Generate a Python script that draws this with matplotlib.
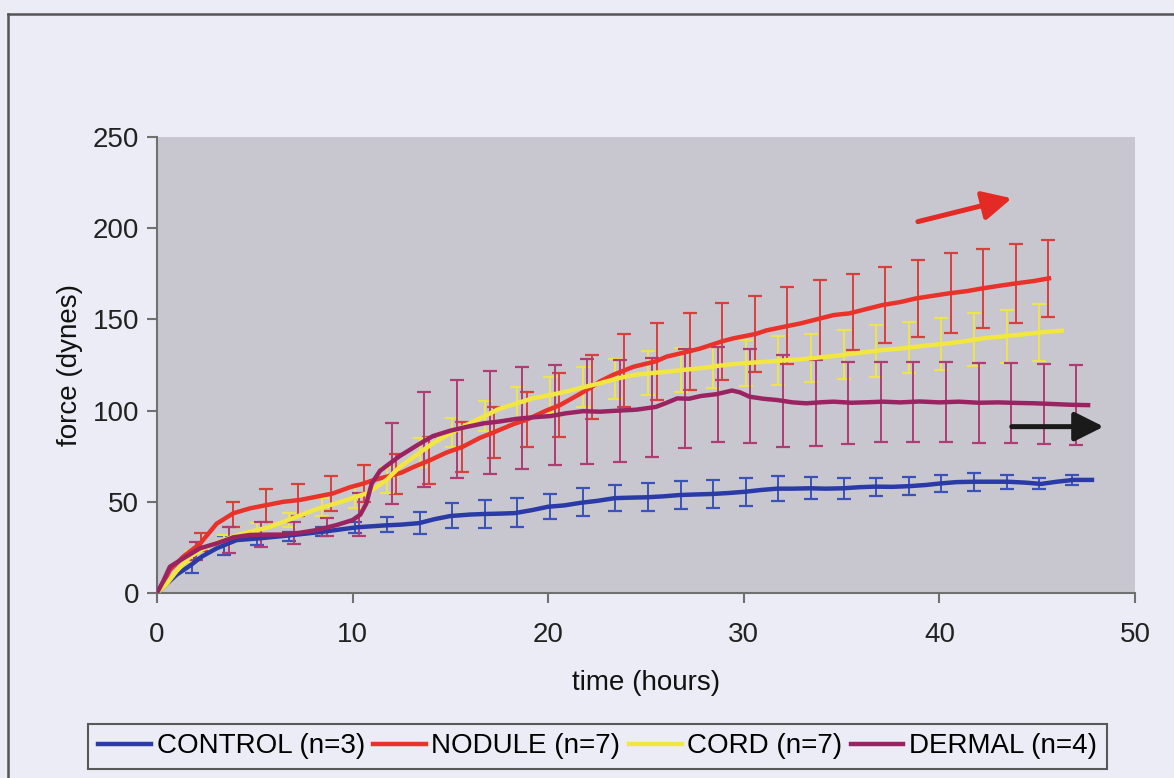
import numpy as np
import matplotlib.pyplot as plt
from matplotlib.lines import Line2D

plt.rcParams['font.family'] = ['Liberation Sans', 'DejaVu Sans']

# CONTROL (n=3)
control_t = [0, 0.5, 1.0, 1.69, 2.3, 3.05, 4.07, 5.27, 6.97, 8.5, 10.2, 11.57, 12.5, 13.4,
             14.2, 15.0, 16.0, 16.7, 17.5, 18.3, 19.2, 20.0, 20.8, 21.7, 22.5, 23.4, 24.3,
             25.1, 25.9, 26.7, 27.5, 28.4, 29.2, 30.06, 30.9, 31.7, 32.5, 33.4, 34.2, 35.07,
             35.9, 36.7, 37.6, 38.5, 39.3, 40.08, 40.9, 41.8, 42.6, 43.5, 44.4, 45.2, 46.0,
             46.86, 47.8]
control_v = [0, 5, 10, 15, 20, 24.5, 29, 30, 31.8, 33.6, 36, 37, 37.5, 38.3,
             40.5, 42.2, 43, 43.3, 43.5, 43.8, 45.5, 47.3, 48, 49.5, 50.5, 52, 52.3,
             52.5, 53, 53.7, 54, 54.3, 54.8, 55.5, 56.5, 57.2, 57.2, 57.4, 57.2, 57.4,
             58, 58.3, 58.2, 58.6, 59.2, 60.1, 60.8, 61, 61, 61, 60.5, 59.8, 61,
             62, 62]
control_eb_t = [1.77, 3.43, 5.1, 6.77, 8.43, 10.1, 11.77, 13.43, 15.1, 16.77, 18.43, 20.1,
                21.77, 23.43, 25.1, 26.77, 28.43, 30.1, 31.77, 33.43, 35.1, 36.77, 38.43,
                40.1, 41.77, 43.43, 45.1, 46.77]
control_eb_v = [15, 26, 29.5, 31, 33.5, 36, 37.5, 38.5, 42.5, 43.3, 44, 47.3,
                49.7, 52, 52.5, 53.7, 54.3, 55.5, 57.2, 57.4, 57.4, 58.3, 58.6,
                60.1, 61, 61, 59.8, 61.8]
control_eb_e = [4, 5, 3, 2.5, 2.5, 3, 4, 6, 7, 7.5, 8, 7,
                7.6, 7.3, 7.8, 7.6, 7.8, 7.7, 7, 6, 5.8, 5, 5,
                4.8, 5, 3.8, 3, 2.7]

# NODULE (n=7)
nodule_t = [0, 0.3, 0.66, 1.35, 2.2, 3.05, 3.9, 4.75, 5.6, 6.46, 7.3, 8.16, 9.0, 9.87,
            10.55, 11.1, 12.0, 12.5, 13.1, 14.0, 14.8, 15.6, 16.5, 17.2, 18.2, 18.9, 19.9,
            20.6, 21.6, 22.23, 22.65, 23.3, 24.35, 25.5, 26.06, 27.2, 27.76, 28.9, 29.46,
            30.6, 31.17, 32.3, 32.9, 33.9, 34.6, 35.4, 36.2, 37.1, 38.0, 38.8, 39.7, 40.5,
            41.4, 42.2, 43.1, 43.95, 44.8, 45.6]
nodule_v = [0, 5, 12.6, 20, 27, 38, 43.7, 46.4, 48.2, 50, 51, 52.8, 54.6, 58,
            60, 62, 64.5, 66, 69, 73, 77, 80, 85, 88, 92.5, 95, 100,
            103, 109, 113, 116, 119.5, 124, 127, 129.6, 132.5, 134, 138, 139.6,
            142, 144, 146.5, 147.8, 150.5, 152.4, 153.3, 155.5, 157.9, 159.5, 161.5, 163, 164.3,
            165.5, 167, 168.5, 169.8, 171, 172.5]
nodule_eb_t = [2.23, 3.9, 5.57, 7.23, 8.9, 10.57, 12.23, 13.9, 15.57, 17.23, 18.9, 20.57,
               22.23, 23.9, 25.57, 27.23, 28.9, 30.57, 32.23, 33.9, 35.57, 37.23, 38.9,
               40.57, 42.23, 43.9, 45.57]
nodule_eb_v = [28, 43, 48, 51, 54.5, 60, 65, 72.5, 80, 88, 95, 103,
               113, 122, 127, 132.5, 138, 142, 146.5, 150.5, 154, 157.9, 161.5,
               164.3, 167, 169.7, 172.4]
nodule_eb_e = [5, 7, 9, 9, 9.5, 10, 11, 13, 13.5, 14, 15, 17.5,
               17.5, 20, 21, 21, 21, 21, 21, 21, 21, 21, 21,
               22, 21.5, 21.6, 21]

# CORD (n=7)
cord_t = [0, 0.5, 1.0, 1.7, 2.5, 3.4, 4.2, 4.9, 5.7, 6.46, 7.3, 8.16, 8.7, 9.7, 10.7,
          11.2, 11.74, 12.4, 13.3, 14.1, 15.0, 15.8, 16.7, 17.5, 18.4, 19.2, 20.1, 20.9,
          21.8, 22.65, 23.5, 24.35, 25.2, 26.06, 26.9, 27.76, 28.6, 29.46, 30.3, 31.17,
          32.0, 32.9, 33.7, 34.6, 35.4, 36.2, 37.1, 38.0, 38.8, 39.6, 40.5, 41.4, 42.2,
          43.1, 43.95, 45.1, 46.25]
cord_v = [0, 5, 12, 20, 25, 29, 32, 34, 36, 39, 42.5, 46, 47.7, 51, 54.6,
          58, 62, 69, 76, 82, 87.6, 92, 96.7, 101, 104, 106.7, 108.5, 110.4,
          112.8, 115, 117.5, 119.5, 120.5, 121.3, 122.3, 123.2, 124.4, 125.5, 126.2, 126.8,
          127.5, 128.1, 129, 129.9, 131, 132, 133.2, 134, 135, 136, 136.9, 138.2, 139.6,
          140.5, 141.4, 142.8, 143.8]
cord_eb_t = [1.77, 3.43, 5.1, 6.77, 8.43, 10.1, 11.77, 13.43, 15.1, 16.77, 18.43, 20.1,
             21.77, 23.43, 25.1, 26.77, 28.43, 30.1, 31.77, 33.43, 35.1, 36.77, 38.43,
             40.1, 41.77, 43.43, 45.1]
cord_eb_v = [20, 29, 34.5, 40, 47, 52.5, 62, 77, 88, 97, 104, 108.5,
             112.7, 117.3, 120.5, 122.2, 124.2, 126, 127.5, 128.8, 130.6, 132.7, 134.5,
             136.5, 138.8, 140.7, 142.8]
cord_eb_e = [3, 3, 4, 4, 5, 6, 7, 8, 8, 8, 9, 10,
             11, 11, 12, 12, 12, 12.6, 13.4, 13.3, 13.5, 14.5, 14,
             14, 14.6, 14.6, 15.5]

# DERMAL (n=4)
dermal_t = [0, 0.3, 0.66, 1.35, 2.2, 3.05, 3.9, 4.75, 5.6, 6.46, 7.3, 8.16, 9.2, 10.0,
            10.4, 10.7, 10.98, 11.4, 11.9, 12.4, 13.3, 14.1, 15.0, 15.8, 16.7, 17.5, 18.4,
            19.2, 20.1, 20.9, 21.8, 22.65, 23.6, 24.5, 25.5, 26.06, 26.6, 27.2, 27.8, 28.6,
            29.4, 29.8, 30.3, 31.0, 31.7, 32.5, 33.2, 34.0, 34.6, 35.5, 36.4, 37.1, 38.0,
            39.0, 40.0, 41.0, 42.0, 43.0, 44.0, 44.9, 45.8, 46.7, 47.6]
dermal_v = [0, 6, 14.4, 19, 24.5, 27.2, 30.5, 31.8, 32, 32, 33, 34.5, 37.3, 40,
            43, 49, 60, 67, 71, 75, 81, 86, 89, 91, 93, 94, 95.5,
            96.3, 97, 98.5, 99.7, 99.4, 100, 100.5, 102, 104.3, 106.7, 106.5, 108, 109,
            111, 110, 107.6, 106.5, 105.8, 104.5, 104, 104.6, 104.9, 104.3, 104.6, 104.9, 104.5,
            105, 104.5, 104.9, 104.3, 104.5, 104.2, 104, 103.6, 103.2, 103]
dermal_eb_t = [2.0, 3.67, 5.33, 7.0, 8.67, 10.33, 12.0, 13.67, 15.33, 17.0, 18.67, 20.33,
               22.0, 23.67, 25.33, 27.0, 28.67, 30.33, 32.0, 33.67, 35.33, 37.0, 38.67,
               40.33, 42.0, 43.67, 45.33, 47.0]
dermal_eb_v = [23, 29, 32, 33, 36, 43, 71, 84, 90, 93.5, 95.8, 97.5,
               99.5, 100, 101.7, 106.6, 109, 108, 105.3, 104.4, 104.3, 104.9, 104.8,
               104.6, 104.3, 104.3, 103.8, 103.1]
dermal_eb_e = [5, 7, 7, 6, 5, 12, 22, 26, 27, 28, 28, 27.5,
               29, 28, 27, 27, 26, 25.5, 25, 23.6, 22.5, 22, 22,
               22, 22, 22, 22, 22]

series = [
    ('CONTROL (n=3)', control_t, control_v, control_eb_t, control_eb_v, control_eb_e, '#2a3aa6', '#3b52b8'),
    ('NODULE (n=7)', nodule_t, nodule_v, nodule_eb_t, nodule_eb_v, nodule_eb_e, '#e8322a', '#d8403c'),
    ('CORD (n=7)', cord_t, cord_v, cord_eb_t, cord_eb_v, cord_eb_e, '#f2e640', '#ece44e'),
    ('DERMAL (n=4)', dermal_t, dermal_v, dermal_eb_t, dermal_eb_v, dermal_eb_e, '#9a2462', '#b03c74'),
]

# arrow positions (data coords)
red_arrow = ((38.9, 203.6), (43.7, 216.4))
black_arrow = ((43.7, 91.2), (48.4, 91.2))

fig = plt.figure(figsize=(11.74, 7.78), dpi=100, facecolor='#ececf6')
ax = fig.add_axes([0.1337, 0.2378, 0.8331, 0.5861])
ax.set_facecolor('#c8c7cf')

handles = []
for name, t, v, et, ev, ee, col, ecol in series:
    ax.errorbar(et, ev, yerr=ee, fmt='none', ecolor=ecol, elinewidth=1.4,
                capsize=5, capthick=1.6, zorder=2)
    h, = ax.plot(t, v, color=col, lw=3.2, zorder=3, label=name)
    handles.append(h)

for (start, end), col in [(red_arrow, '#e42a24'), (black_arrow, '#1a1a1a')]:
    ax.annotate('', xy=end, xytext=start,
                arrowprops=dict(arrowstyle='-|>', color=col, lw=3.6,
                                mutation_scale=44, shrinkA=0, shrinkB=0), zorder=5)

ax.set_xlim(0, 50)
ax.set_ylim(0, 250)
ax.set_xticks([0, 10, 20, 30, 40, 50])
ax.set_yticks([0, 50, 100, 150, 200, 250])
for s in ['top', 'right']:
    ax.spines[s].set_visible(False)
for s in ['left', 'bottom']:
    ax.spines[s].set_color('#707070')
    ax.spines[s].set_linewidth(1.5)
ax.tick_params(colors='#707070', labelcolor='#222222', labelsize=20, length=7, width=1.5)
ax.tick_params(axis='x', pad=14)
ax.tick_params(axis='y', pad=6)
ax.set_xlabel('time (hours)', fontsize=20, color='#111111', labelpad=16)
ax.set_ylabel('force (dynes)', fontsize=20, color='#111111', labelpad=7)

leg = fig.legend(handles=handles, loc='center', bbox_to_anchor=(0.509, 0.0405), ncol=4,
                 fontsize=20, frameon=True, fancybox=False, handlelength=1.9,
                 handletextpad=0.2, columnspacing=0.3, borderpad=0.35, borderaxespad=0)
leg.get_frame().set_edgecolor('#333333')
leg.get_frame().set_facecolor('#ececf6')
leg.get_frame().set_linewidth(1.5)

# page frame lines
fig.add_artist(Line2D([0.0068, 0.0068], [0, 0.982], transform=fig.transFigure,
                      color='#555555', lw=1.8))
fig.add_artist(Line2D([0.0068, 1.0], [0.982, 0.982], transform=fig.transFigure,
                      color='#555555', lw=1.8))

fig.savefig('out.png', dpi=100, facecolor=fig.get_facecolor())
